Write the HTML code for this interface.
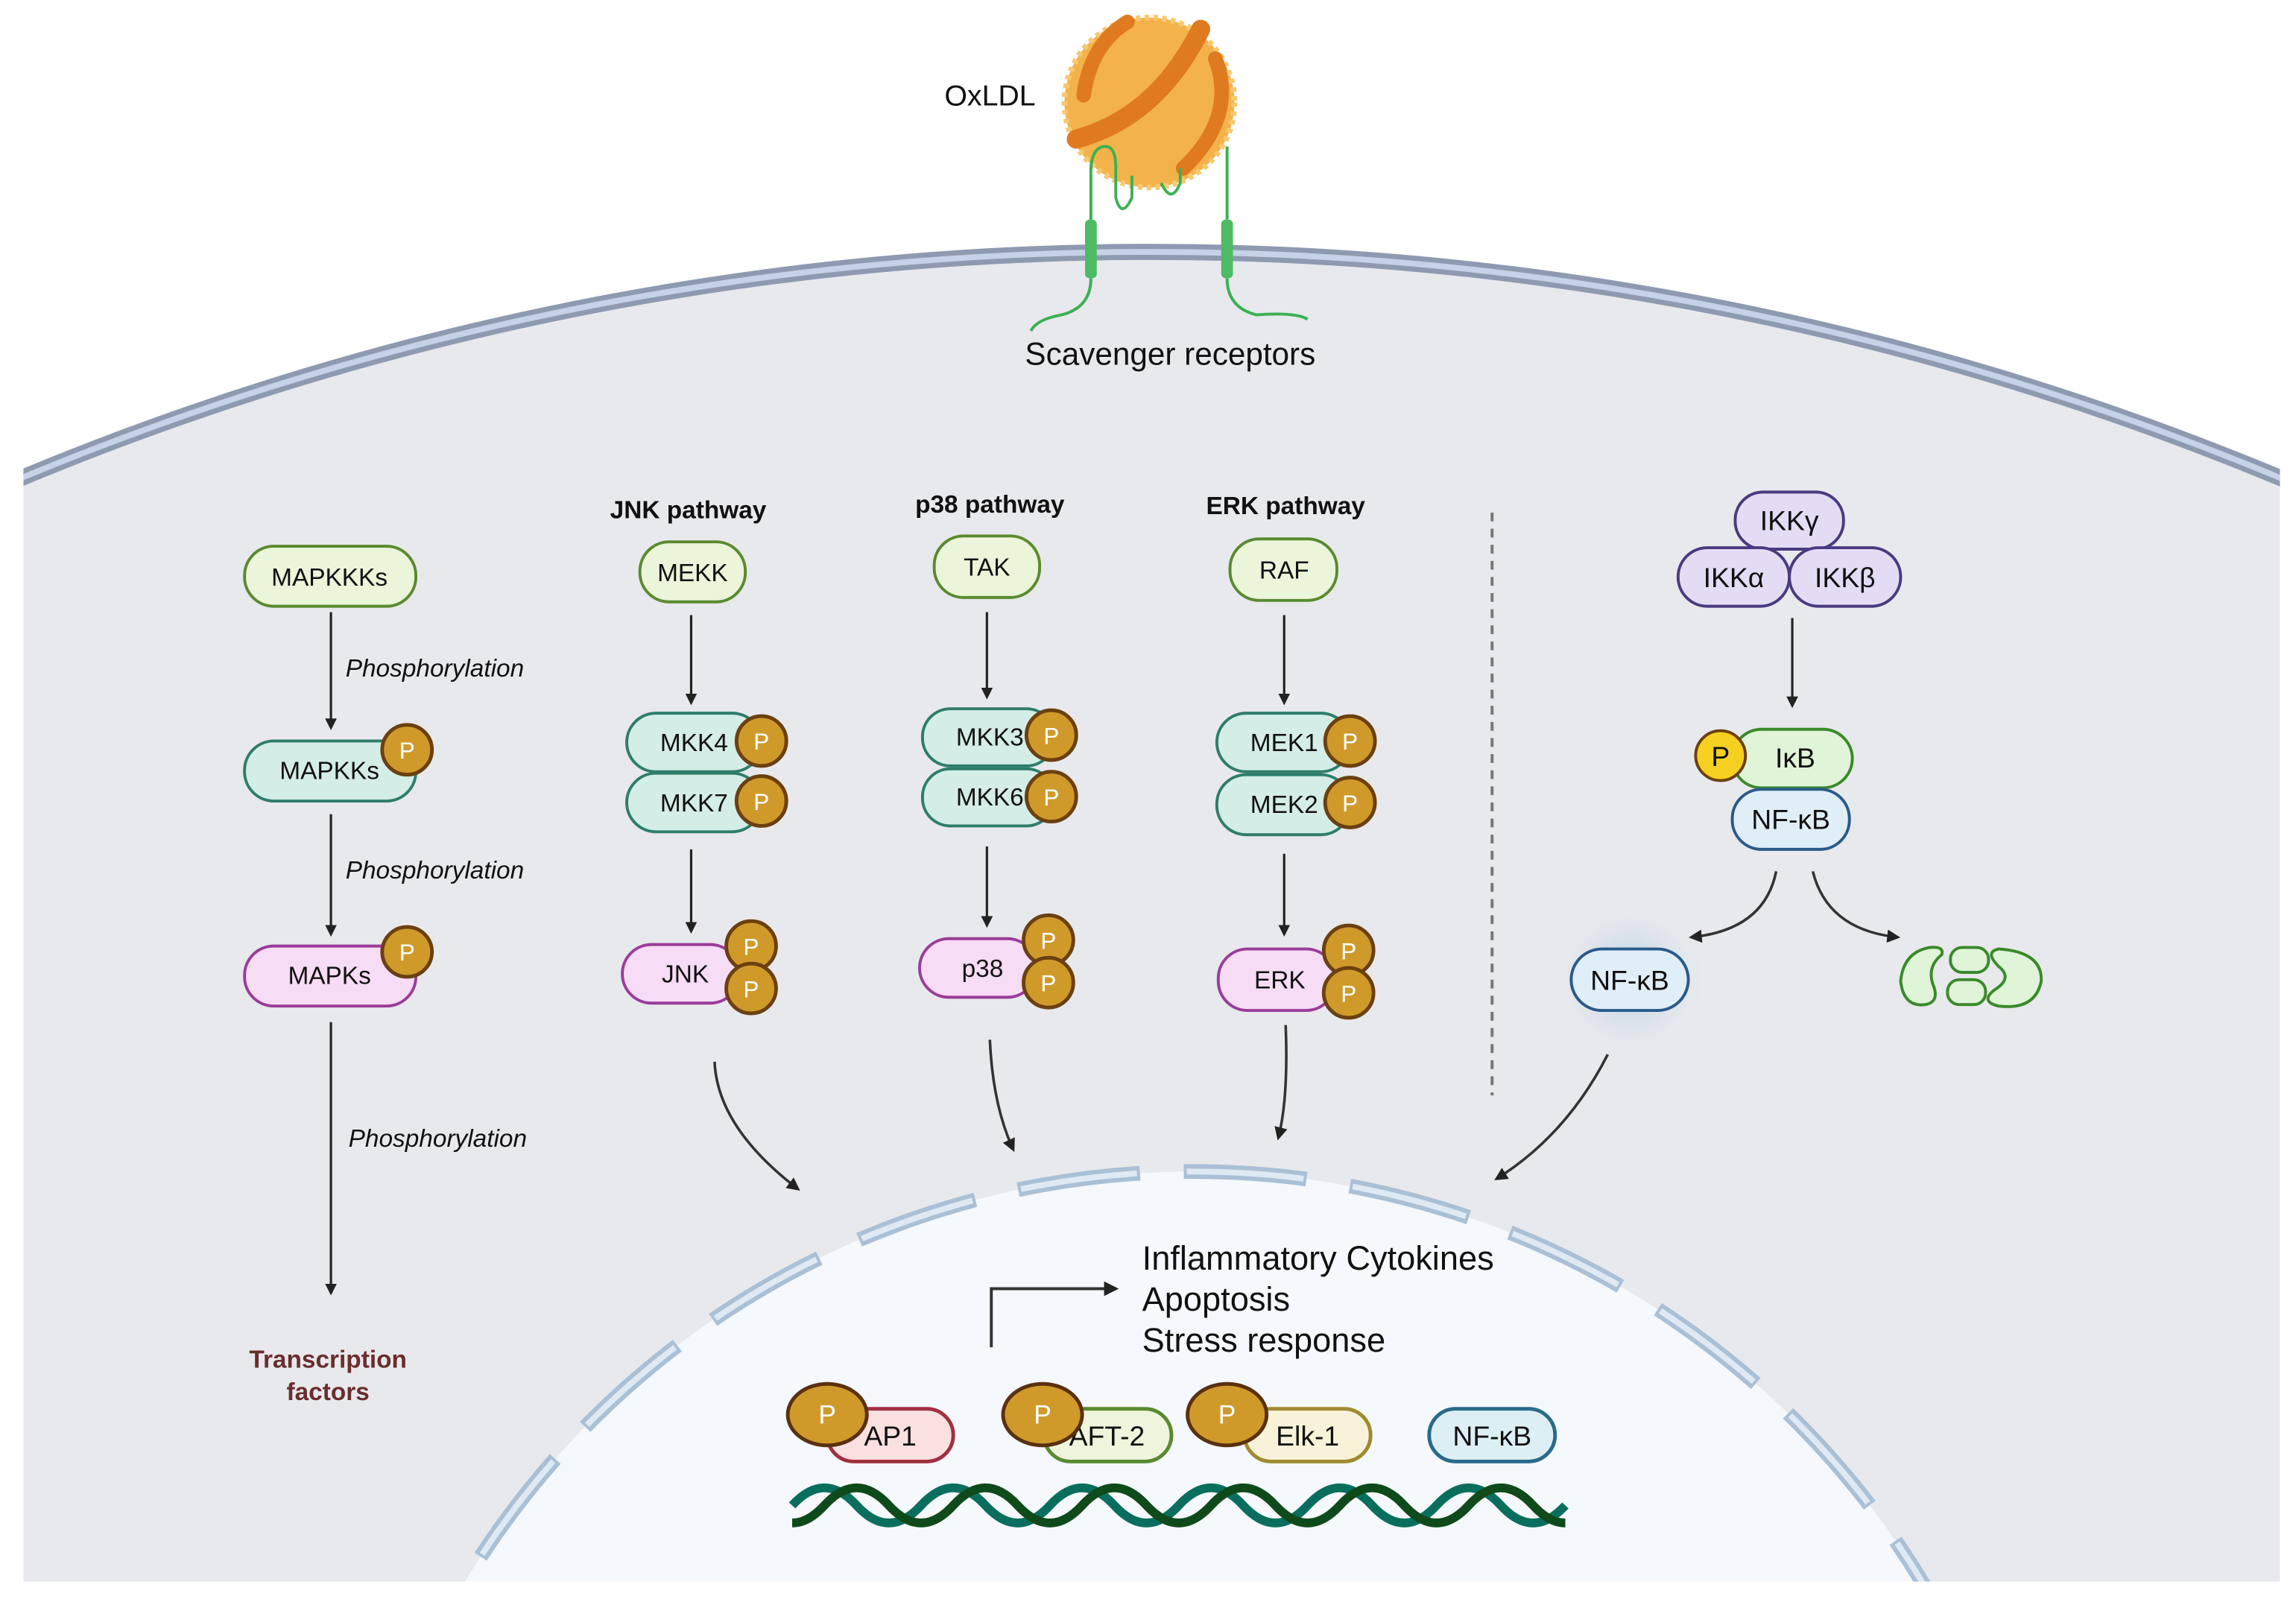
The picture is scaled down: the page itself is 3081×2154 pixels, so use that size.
<!DOCTYPE html>
<html><head><meta charset="utf-8"><style>
html,body{margin:0;padding:0;background:#fff;width:3081px;height:2154px;overflow:hidden}
svg{display:block}
text{font-family:"Liberation Sans",sans-serif;fill:#111}
</style></head><body>
<svg width="3081" height="2154" viewBox="0 0 1568 1096" preserveAspectRatio="none" xmlns="http://www.w3.org/2000/svg">
<defs>
<marker id="ah" viewBox="0 0 10 10" refX="8" refY="5" markerWidth="5" markerHeight="5" orient="auto"><path d="M0,0 L10,5 L0,10 z" fill="#222"/></marker>
<clipPath id="cellclip"><rect x="16" y="0" width="1541" height="1080"/></clipPath>
<radialGradient id="glow"><stop offset="0" stop-color="#9cc6e0" stop-opacity="0.9"/><stop offset="1" stop-color="#e8e9ec" stop-opacity="0"/></radialGradient>
</defs>
<rect width="1568" height="1096" fill="#fff"/>
<g clip-path="url(#cellclip)">
<circle cx="786" cy="2176" r="2004" fill="#e8e9ec"/>
<circle cx="786" cy="2176" r="2004" fill="none" stroke="#8e9ab0" stroke-width="11"/>
<circle cx="786" cy="2176" r="2004" fill="none" stroke="#c5d2e8" stroke-width="4"/>
<circle cx="815" cy="1382" r="582" fill="#f5f8fc"/>
<circle cx="815" cy="1382" r="582" fill="none" stroke="#a9c0d6" stroke-width="10" stroke-dasharray="84 30"/>
<circle cx="815" cy="1382" r="582" fill="none" stroke="#dfe9f3" stroke-width="4" stroke-dasharray="80 34" stroke-dashoffset="-2"/>
</g>
<!-- OxLDL -->
<circle cx="785" cy="70" r="58" fill="#f3b34a"/>
<circle cx="785" cy="70" r="58" fill="none" stroke="#f8c870" stroke-width="4" stroke-dasharray="3 3"/>
<path d="M735,95 Q790,80 820,20" stroke="#e07a20" stroke-width="13" fill="none" stroke-linecap="round"/>
<path d="M740,65 Q745,30 770,15" stroke="#e07a20" stroke-width="10" fill="none" stroke-linecap="round"/>
<path d="M830,40 Q845,80 808,115" stroke="#e07a20" stroke-width="10" fill="none" stroke-linecap="round"/>
<text x="645" y="72" font-size="20">OxLDL</text>
<path d="M745,150 L745,115 Q746,100 755,100 Q762,100 762,115 L762,135 Q766,150 773,135 L773,120" stroke="#3cb054" stroke-width="2" fill="none"/>
<path d="M838,150 L838,100" stroke="#3cb054" stroke-width="2" fill="none"/>
<path d="M793,125 Q800,140 806,125 L806,115" stroke="#3cb054" stroke-width="2" fill="none"/>
<rect x="741" y="150" width="8" height="40" rx="3" fill="#4cbb63"/>
<rect x="834" y="150" width="8" height="40" rx="3" fill="#4cbb63"/>
<path d="M745,190 Q745,210 725,215 Q708,218 704,226" stroke="#3cb054" stroke-width="2" fill="none"/>
<path d="M838,190 Q838,210 858,215 Q885,213 893,218" stroke="#3cb054" stroke-width="2" fill="none"/>
<text x="700" y="249" font-size="21.5">Scavenger receptors</text>
<!-- column 1 -->
<g font-size="17">
<rect x="167" y="373" width="117" height="41" rx="20" fill="#eaf5d9" stroke="#5a8a30" stroke-width="2"/>
<text x="225" y="400" text-anchor="middle">MAPKKKs</text>
<rect x="167" y="506" width="117" height="41" rx="20" fill="#d4ede6" stroke="#2e7d6a" stroke-width="2"/>
<text x="225" y="532" text-anchor="middle">MAPKKs</text>
<rect x="167" y="646" width="117" height="41" rx="20" fill="#f6dcf5" stroke="#9a3c9a" stroke-width="2"/>
<text x="225" y="672" text-anchor="middle">MAPKs</text>
</g>
<g stroke="#222" stroke-width="1.6" marker-end="url(#ah)">
<line x1="226" y1="418" x2="226" y2="497"/>
<line x1="226" y1="556" x2="226" y2="638"/>
<line x1="226" y1="698" x2="226" y2="883"/>
<line x1="472" y1="420" x2="472" y2="480"/>
<line x1="472" y1="580" x2="472" y2="636"/>
<line x1="674" y1="418" x2="674" y2="476"/>
<line x1="674" y1="578" x2="674" y2="632"/>
<line x1="877" y1="420" x2="877" y2="480"/>
<line x1="877" y1="583" x2="877" y2="638"/>
<line x1="1224" y1="422" x2="1224" y2="482"/>
</g>
<g font-size="17" font-style="italic">
<text x="236" y="462">Phosphorylation</text>
<text x="236" y="600">Phosphorylation</text>
<text x="238" y="783">Phosphorylation</text>
</g>
<text x="224" y="934" font-size="17" font-weight="bold" text-anchor="middle" style="fill:#6b2d2d">Transcription</text>
<text x="224" y="956" font-size="17" font-weight="bold" text-anchor="middle" style="fill:#6b2d2d">factors</text>
<g font-size="17" font-weight="bold" text-anchor="middle">
<text x="470" y="354">JNK pathway</text>
<text x="676" y="350">p38 pathway</text>
<text x="878" y="351">ERK pathway</text>
</g>
<g font-size="17" text-anchor="middle">
<rect x="437" y="370" width="72" height="41" rx="20" fill="#eaf5d9" stroke="#5a8a30" stroke-width="2"/><text x="473" y="397">MEKK</text>
<rect x="638" y="366" width="72" height="42" rx="20" fill="#eaf5d9" stroke="#5a8a30" stroke-width="2"/><text x="674" y="393">TAK</text>
<rect x="840" y="368" width="73" height="42" rx="20" fill="#eaf5d9" stroke="#5a8a30" stroke-width="2"/><text x="877" y="395">RAF</text>
<rect x="428" y="487" width="92" height="40" rx="20" fill="#d4ede6" stroke="#2e7d6a" stroke-width="2"/><text x="474" y="513">MKK4</text>
<rect x="428" y="528" width="92" height="40" rx="20" fill="#d4ede6" stroke="#2e7d6a" stroke-width="2"/><text x="474" y="554">MKK7</text>
<rect x="630" y="484" width="90" height="39" rx="19" fill="#d4ede6" stroke="#2e7d6a" stroke-width="2"/><text x="676" y="509">MKK3</text>
<rect x="630" y="525" width="90" height="39" rx="19" fill="#d4ede6" stroke="#2e7d6a" stroke-width="2"/><text x="676" y="550">MKK6</text>
<rect x="831" y="487" width="91" height="40" rx="20" fill="#d4ede6" stroke="#2e7d6a" stroke-width="2"/><text x="877" y="513">MEK1</text>
<rect x="831" y="529" width="91" height="41" rx="20" fill="#d4ede6" stroke="#2e7d6a" stroke-width="2"/><text x="877" y="555">MEK2</text>
<rect x="425" y="645" width="80" height="40" rx="20" fill="#f6dcf5" stroke="#9a3c9a" stroke-width="2"/><text x="468" y="671">JNK</text>
<rect x="628" y="641" width="80" height="40" rx="20" fill="#f6dcf5" stroke="#9a3c9a" stroke-width="2"/><text x="671" y="667">p38</text>
<rect x="832" y="648" width="80" height="42" rx="20" fill="#f6dcf5" stroke="#9a3c9a" stroke-width="2"/><text x="874" y="675">ERK</text>
</g>
<g fill="#d09a2a" stroke="#6b4010" stroke-width="2.5">
<circle cx="278" cy="512" r="17"/><circle cx="278" cy="650" r="17"/>
<circle cx="520" cy="506" r="17"/><circle cx="520" cy="547" r="17"/>
<circle cx="718" cy="502" r="17"/><circle cx="718" cy="544" r="17"/>
<circle cx="922" cy="506" r="17"/><circle cx="922" cy="548" r="17"/>
<circle cx="513" cy="646" r="17"/><circle cx="513" cy="675" r="17"/>
<circle cx="716" cy="642" r="17"/><circle cx="716" cy="671" r="17"/>
<circle cx="921" cy="649" r="17"/><circle cx="921" cy="678" r="17"/>
</g>
<g font-size="16" text-anchor="middle">
<text x="278" y="518" style="fill:#fff">P</text><text x="278" y="656" style="fill:#fff">P</text>
<text x="520" y="512" style="fill:#fff">P</text><text x="520" y="553" style="fill:#fff">P</text>
<text x="718" y="508" style="fill:#fff">P</text><text x="718" y="550" style="fill:#fff">P</text>
<text x="922" y="512" style="fill:#fff">P</text><text x="922" y="554" style="fill:#fff">P</text>
<text x="513" y="652" style="fill:#fff">P</text><text x="513" y="681" style="fill:#fff">P</text>
<text x="716" y="648" style="fill:#fff">P</text><text x="716" y="677" style="fill:#fff">P</text>
<text x="921" y="655" style="fill:#fff">P</text><text x="921" y="684" style="fill:#fff">P</text>
</g>
<!-- curved arrows -->
<g stroke="#333" stroke-width="1.8" fill="none" marker-end="url(#ah)">
<path d="M488,725 Q490,770 545,812"/>
<path d="M676,710 Q678,755 692,785"/>
<path d="M878,700 Q880,750 873,777"/>
<path d="M1098,720 Q1070,775 1022,805"/>
<path d="M1213,595 Q1205,635 1155,640"/>
<path d="M1238,595 Q1248,635 1296,640"/>
</g>
<line x1="1019" y1="350" x2="1019" y2="748" stroke="#777" stroke-width="2" stroke-dasharray="6 5"/>
<!-- IKK -->
<g font-size="19" text-anchor="middle">
<rect x="1185" y="336" width="74" height="39" rx="19" fill="#e4dcf5" stroke="#4a3a80" stroke-width="2"/><text x="1222" y="362">IKKγ</text>
<rect x="1146" y="374" width="76" height="40" rx="20" fill="#e4dcf5" stroke="#4a3a80" stroke-width="2"/><text x="1184" y="401">IKKα</text>
<rect x="1222" y="374" width="76" height="40" rx="20" fill="#e4dcf5" stroke="#4a3a80" stroke-width="2"/><text x="1260" y="401">IKKβ</text>
<rect x="1183" y="498" width="82" height="40" rx="20" fill="#e0f4d8" stroke="#3a8a2a" stroke-width="2"/><text x="1226" y="524">IκB</text>
<circle cx="1175" cy="516" r="17" fill="#f5d020" stroke="#6b4010" stroke-width="2"/><text x="1175" y="523">P</text>
<rect x="1183" y="539" width="80" height="41" rx="20" fill="#e0eef8" stroke="#2a5a8a" stroke-width="2"/><text x="1223" y="566">NF-κB</text>
<circle cx="1113" cy="669" r="55" fill="url(#glow)"/>
<rect x="1073" y="648" width="80" height="42" rx="21" fill="#e0eef8" stroke="#2a5a8a" stroke-width="2"/><text x="1113" y="676">NF-κB</text>
</g>
<g fill="#e0f4d8" stroke="#3a8a2a" stroke-width="2">
<path d="M1318,647 Q1300,650 1298,670 Q1300,688 1315,686 Q1325,684 1320,672 Q1316,660 1326,652 Q1328,646 1318,647z"/>
<rect x="1332" y="647" width="26" height="17" rx="8"/>
<rect x="1330" y="669" width="26" height="17" rx="8"/>
<path d="M1365,648 Q1395,650 1394,670 Q1390,690 1365,687 Q1352,684 1362,676 Q1375,668 1365,660 Q1355,650 1365,648z"/>
</g>
<!-- nucleus content -->
<g font-size="23">
<text x="780" y="867">Inflammatory Cytokines</text>
<text x="780" y="895">Apoptosis</text>
<text x="780" y="923">Stress response</text>
</g>
<path d="M677,920 L677,880 L762,880" stroke="#333" stroke-width="2" fill="none" marker-end="url(#ah)"/>
<g font-size="19" text-anchor="middle">
<rect x="565" y="962" width="86" height="36" rx="18" fill="#fbe0e0" stroke="#a03040" stroke-width="2.5"/><text x="608" y="987">AP1</text>
<rect x="713" y="962" width="87" height="36" rx="18" fill="#eef5dc" stroke="#5a8a30" stroke-width="2.5"/><text x="756" y="987">AFT-2</text>
<rect x="850" y="962" width="86" height="36" rx="18" fill="#f8f3d8" stroke="#a08a30" stroke-width="2.5"/><text x="893" y="987">Elk-1</text>
<rect x="976" y="962" width="86" height="36" rx="18" fill="#ddeff5" stroke="#2a6a8a" stroke-width="2.5"/><text x="1019" y="987">NF-κB</text>
</g>
<g fill="#d09a2a" stroke="#5a3010" stroke-width="2.5">
<ellipse cx="565" cy="966" rx="27" ry="21"/><ellipse cx="712" cy="966" rx="27" ry="21"/><ellipse cx="838" cy="966" rx="27" ry="21"/>
</g>
<g font-size="18" text-anchor="middle">
<text x="565" y="972" style="fill:#fff">P</text><text x="712" y="972" style="fill:#fff">P</text><text x="838" y="972" style="fill:#fff">P</text>
</g>
<!-- DNA -->
<g fill="none" stroke-width="6">
<path stroke="#0a6e5e" d="M541,1028 q11,-12 22,-12 t22,12 t22,12 t22,-12 t22,-12 t22,12 t22,12 t22,-12 t22,-12 t22,12 t22,12 t22,-12 t22,-12 t22,12 t22,12 t22,-12 t22,-12 t22,12 t22,12 t22,-12 t22,-12 t22,12 t22,12 t22,-12"/>
<path stroke="#0f4a1a" d="M541,1040 q11,0 22,-12 t22,-12 t22,12 t22,12 t22,-12 t22,-12 t22,12 t22,12 t22,-12 t22,-12 t22,12 t22,12 t22,-12 t22,-12 t22,12 t22,12 t22,-12 t22,-12 t22,12 t22,12 t22,-12 t22,-12 t22,12 t22,12"/>
</g>
</svg>
</body></html>
